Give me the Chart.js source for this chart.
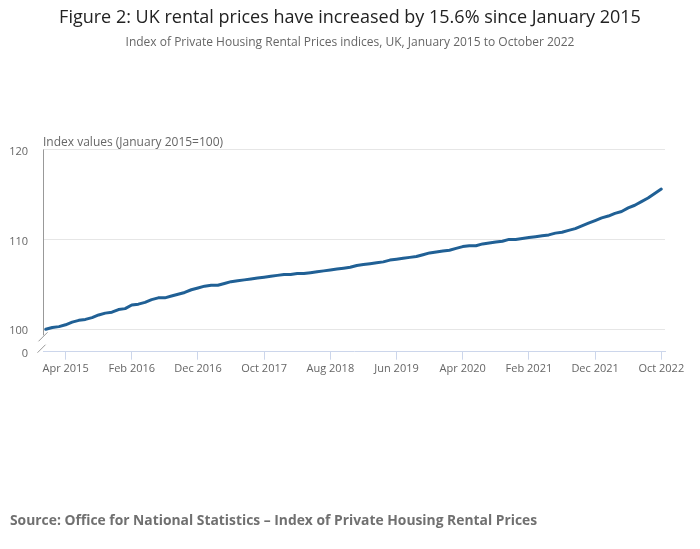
<!DOCTYPE html>
<html>
<head>
<meta charset="utf-8">
<script src="https://cdn.jsdelivr.net/npm/chart.js@4.4.1/dist/chart.umd.min.js"></script>
<style>
  html, body { margin: 0; padding: 0; background: #fff; }
  #wrap { width: 700px; height: 549px; position: relative; }
</style>
</head>
<body>
<div id="wrap"><canvas id="chart"></canvas></div>
<script>
// Monthly categories, Jan 2015 to Oct 2022
const MONTH_NAMES = ['Jan', 'Feb', 'Mar', 'Apr', 'May', 'Jun', 'Jul', 'Aug', 'Sep', 'Oct', 'Nov', 'Dec'];
const months = [];
for (let y = 2015; y <= 2022; y++) {
  MONTH_NAMES.forEach((m, i) => {
    if (y === 2022 && i > 9) return;
    months.push(m + ' ' + y);
  });
}

// IPHRP index (January 2015 = 100)
const rentIndex = [
  100.0, 100.2, 100.3, 100.5, 100.8, 101.0, 101.1, 101.3, 101.6, 101.8, 101.9, 102.2,
  102.3, 102.7, 102.8, 103.0, 103.3, 103.5, 103.5, 103.7, 103.9, 104.1, 104.4, 104.6,
  104.8, 104.9, 104.9, 105.1, 105.3, 105.4, 105.5, 105.6, 105.7, 105.8, 105.9, 106.0,
  106.1, 106.1, 106.2, 106.2, 106.3, 106.4, 106.5, 106.6, 106.7, 106.8, 106.9, 107.1,
  107.2, 107.3, 107.4, 107.5, 107.7, 107.8, 107.9, 108.0, 108.1, 108.3, 108.5, 108.6,
  108.7, 108.8, 109.0, 109.2, 109.3, 109.3, 109.5, 109.6, 109.7, 109.8, 110.0, 110.0,
  110.1, 110.2, 110.3, 110.4, 110.5, 110.7, 110.8, 111.0, 111.2, 111.5, 111.8, 112.1,
  112.4, 112.6, 112.9, 113.1, 113.5, 113.8, 114.2, 114.6, 115.1, 115.6,
];

// x ticks every 10 months, starting at Apr 2015
const xTickIndex = [3, 13, 23, 33, 43, 53, 63, 73, 83, 93];
const xTickLabels = ['Apr 2015', 'Feb 2016', 'Dec 2016', 'Oct 2017', 'Aug 2018',
  'Jun 2019', 'Apr 2020', 'Feb 2021', 'Dec 2021', 'Oct 2022'];

const yTickValues = [100, 110, 120];
const yBreakLabel = '0';

const TITLE = 'Figure 2: UK rental prices have increased by 15.6% since January 2015';
const SUBTITLE = 'Index of Private Housing Rental Prices indices, UK, January 2015 to October 2022';
const AXIS_TITLE = 'Index values (January 2015=100)';
const SOURCE = 'Source: Office for National Statistics \u2013 Index of Private Housing Rental Prices';

const Y_MIN = 97.51;
const FONT = '"Open Sans", "Noto Sans", sans-serif';

const decorations = {
  id: 'decorations',
  afterDraw(chart) {
    const { ctx, chartArea, scales } = chart;
    ctx.save();

    ctx.textAlign = 'center';
    ctx.textBaseline = 'middle';
    ctx.fillStyle = '#222';
    ctx.font = '18px ' + FONT;
    ctx.fillText(TITLE, 350, 18);

    ctx.fillStyle = '#666';
    ctx.font = '12px ' + FONT;
    ctx.fillText(SUBTITLE, 350, 43);

    ctx.textAlign = 'left';
    ctx.fillText(AXIS_TITLE, chartArea.left, 143);

    ctx.fillStyle = '#707070';
    ctx.font = 'bold 13.85px ' + FONT;
    ctx.fillText(SOURCE, 10, 521);

    // y axis line with a break between 0 and 100
    const x = chartArea.left + 0.5;
    const yBreak = scales.y.getPixelForValue(100) + 6;
    ctx.strokeStyle = '#999';
    ctx.lineWidth = 1;
    ctx.beginPath();
    ctx.moveTo(x, chartArea.top);
    ctx.lineTo(x, yBreak);
    ctx.moveTo(x - 5, yBreak + 6);
    ctx.lineTo(x + 4, yBreak - 3);
    ctx.moveTo(x - 6, chartArea.bottom + 1);
    ctx.lineTo(x + 2, chartArea.bottom - 7);
    ctx.stroke();

    ctx.restore();
  },
};

new Chart(document.getElementById('chart'), {
  type: 'line',
  data: {
    labels: months,
    datasets: [
      {
        label: 'IPHRP',
        data: rentIndex.map((v, i) => ({ x: i, y: v })),
        borderColor: '#206095',
        borderWidth: 3,
        pointRadius: 0,
        tension: 0,
        borderJoinStyle: 'round',
        borderCapStyle: 'round',
      },
    ],
  },
  options: {
    responsive: true,
    maintainAspectRatio: false,
    animation: false,
    layout: { padding: { top: 149.5, right: 35, bottom: 172.3, left: 0 } },
    plugins: {
      legend: { display: false },
      tooltip: { enabled: false },
    },
    scales: {
      x: {
        type: 'linear',
        min: -0.41,
        max: 93.56,
        afterBuildTicks: (scale) => {
          scale.ticks = xTickIndex.map((v) => ({ value: v }));
        },
        afterFit: (scale) => {
          scale.height = 25;
        },
        ticks: {
          autoSkip: false,
          maxRotation: 0,
          padding: 3,
          color: '#666',
          font: { family: FONT, size: 11 },
          callback: (v) => xTickLabels[xTickIndex.indexOf(v)],
        },
        grid: { drawOnChartArea: false, drawTicks: true, tickLength: 8, color: '#ccd6eb' },
        border: { color: '#ccd6eb' },
      },
      y: {
        min: Y_MIN,
        max: 120,
        afterBuildTicks: (scale) => {
          scale.ticks = [Y_MIN, ...yTickValues].map((v) => ({ value: v }));
        },
        afterFit: (scale) => {
          scale.width = 43;
        },
        ticks: {
          padding: 15,
          labelOffset: 2,
          color: '#666',
          font: { family: FONT, size: 11 },
          callback: (v) => (v === Y_MIN ? yBreakLabel : String(v)),
        },
        grid: {
          drawTicks: false,
          color: (c) => (c.tick && c.tick.value === Y_MIN ? 'rgba(0,0,0,0)' : '#e6e6e6'),
        },
        border: { display: false },
      },
    },
  },
  plugins: [decorations],
});
</script>
</body>
</html>
